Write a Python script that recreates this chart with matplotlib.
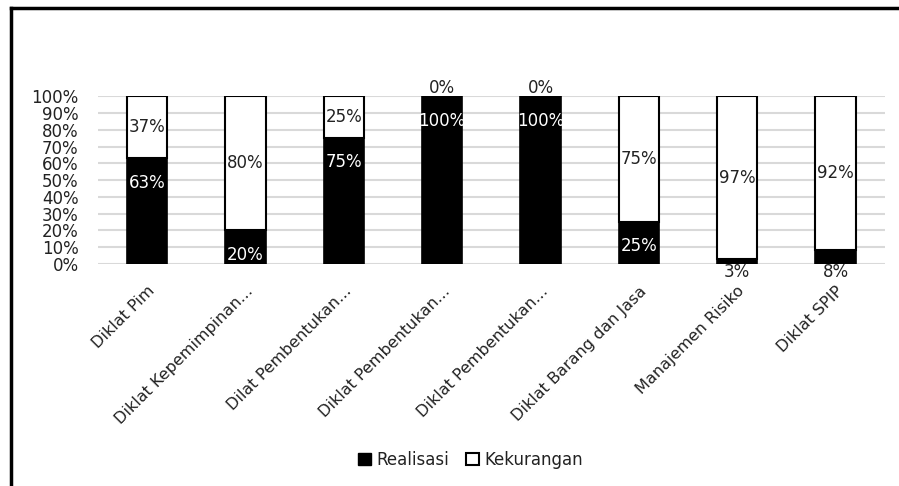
import numpy as np
import matplotlib
matplotlib.use("Agg")
from matplotlib import pyplot as plt
from matplotlib.lines import Line2D
from matplotlib.patches import Patch

categories = ["Diklat Pim", "Diklat Kepemimpinan...", "Dilat Pembentukan...",
              "Diklat Pembentukan...", "Diklat Pembentukan...", "Diklat Barang dan Jasa",
              "Manajemen Risiko", "Diklat SPIP"]
realisasi = [63, 20, 75, 100, 100, 25, 3, 8]
kekurangan = [37, 80, 25, 0, 0, 75, 97, 92]
yticks = [0, 10, 20, 30, 40, 50, 60, 70, 80, 90, 100]

plt.rcParams['font.family'] = ['DejaVu Sans']

fig = plt.figure(figsize=(8.99, 4.86), dpi=100)
ax = fig.add_axes([0.109, 0.457, 0.875, 0.345])

x = np.arange(len(categories))
r = np.array(realisasi) / 100
k = np.array(kekurangan) / 100
w = 0.41

ax.bar(x, r, w, color='black', edgecolor='black', linewidth=1.2, zorder=3, label='Realisasi')
ax.bar(x, k, w, bottom=r, color='white', edgecolor='black', linewidth=1.5, zorder=3,
       label='Kekurangan')

# labels
for i in range(len(x)):
    if r[i] >= 0.15:
        ax.text(x[i], r[i] - 0.145, f"{realisasi[i]}%", ha='center', va='center',
                color='white', fontsize=12, zorder=4)
    else:
        ax.text(x[i], max(r[i] - 0.145, -0.05), f"{realisasi[i]}%", ha='center', va='center',
                color='#222222', fontsize=12, zorder=4, clip_on=False)
    if k[i] > 0:
        ax.text(x[i], r[i] + k[i] / 2, f"{kekurangan[i]}%", ha='center', va='center',
                color='#222222', fontsize=12, zorder=4)
    else:
        ax.text(x[i], 1.05, f"{kekurangan[i]}%", ha='center', va='center',
                color='#222222', fontsize=12, zorder=4, clip_on=False)

ax.set_xlim(-0.5, len(x) - 0.5)
ax.set_ylim(0, 1)
ax.set_yticks(np.array(yticks) / 100)
ax.set_yticklabels([f"{t}%" for t in yticks], fontsize=12, color='#222222')
ax.set_xticks(x)
ax.set_xticklabels(categories, rotation=45, ha='right', rotation_mode='anchor',
                   fontsize=11.5, color='#222222')
ax.tick_params(axis='x', length=0, pad=14)
ax.tick_params(axis='y', length=0, pad=14)
ax.yaxis.grid(True, color='#d9d9d9', linewidth=1.5, zorder=0)
ax.set_axisbelow(True)
for s in ax.spines.values():
    s.set_visible(False)

handles = [Patch(facecolor='black', edgecolor='black', label='Realisasi'),
           Patch(facecolor='white', edgecolor='black', linewidth=1.5, label='Kekurangan')]
fig.legend(handles=handles, loc='center', bbox_to_anchor=(0.523, 0.054), ncol=2,
           frameon=False, fontsize=12, handlelength=0.8, handleheight=0.8,
           handletextpad=0.3, columnspacing=1.0, labelcolor='#222222')

# outer frame (left and top only)
fig.add_artist(Line2D([11 / 899, 11 / 899], [0, 1 - 8 / 486], color='black', linewidth=2.5,
                      transform=fig.transFigure))
fig.add_artist(Line2D([11 / 899, 1], [1 - 8 / 486, 1 - 8 / 486], color='black', linewidth=2.5,
                      transform=fig.transFigure))

fig.savefig("out.png", dpi=100)
